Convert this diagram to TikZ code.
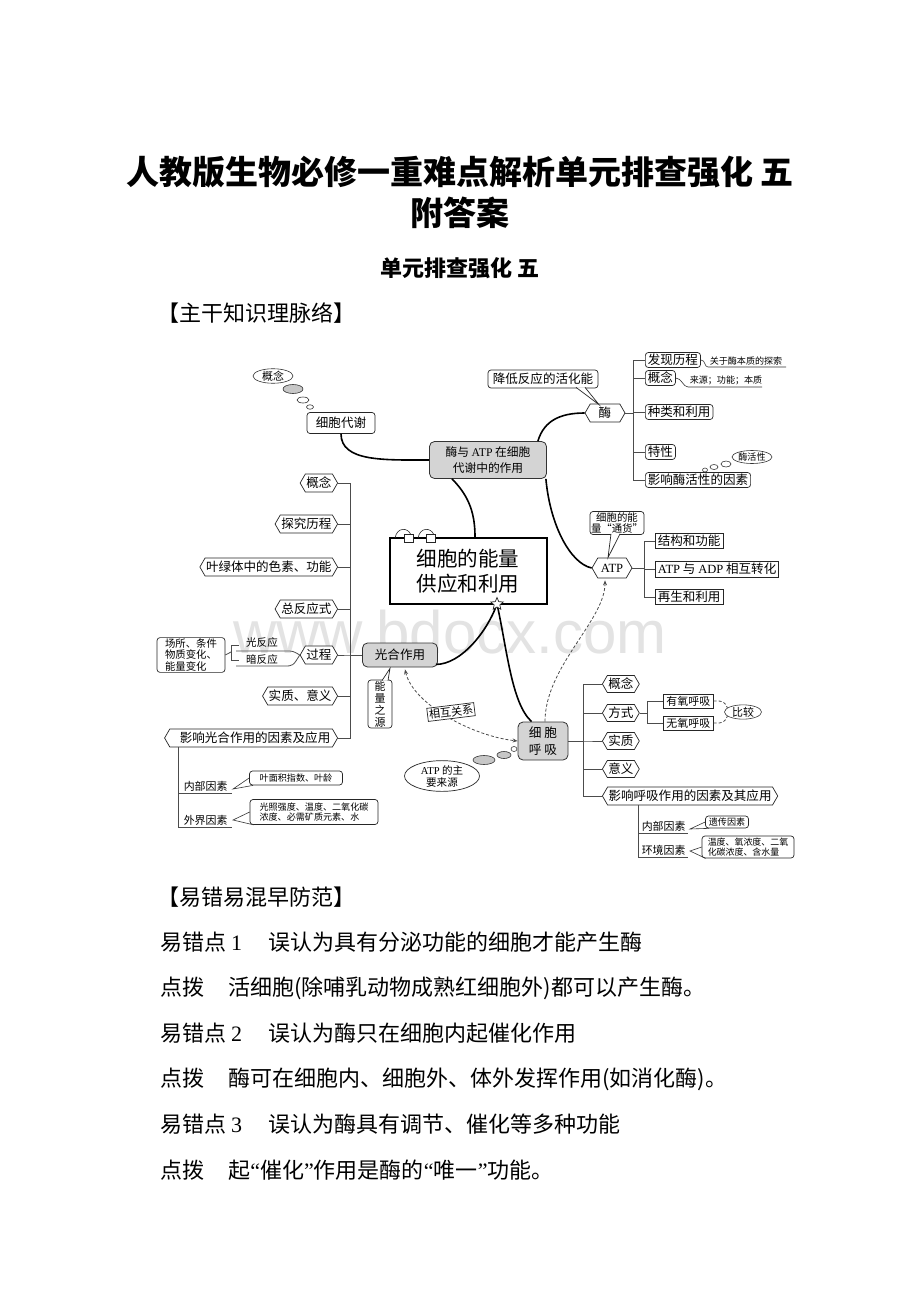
\documentclass[tikz,border=0pt]{standalone}
\usepackage{fontspec}
\setmainfont{Noto Sans CJK SC}
\newfontfamily\lat{Liberation Serif}
\newfontfamily\wmfont{Liberation Sans}
\usetikzlibrary{shapes.symbols,shapes.geometric,arrows.meta,calc}
\newdimen\upx \upx=0.75pt
\newcommand\fA{\fontsize{9.4}{11}\selectfont}
\newcommand\fB{\fontsize{8.2}{9.5}\selectfont}
\newcommand\fC{\fontsize{6.8}{8.2}\selectfont}
\newcommand\fT{\fontsize{16.5}{20}\selectfont}
\tikzset{
  rbox/.style={draw=black!85, line width=0.7\upx, rounded corners=3\upx, fill=white, inner xsep=2.5\upx, inner ysep=1.5\upx, font=\fA},
  sbox/.style={draw=black!85, line width=0.7\upx, fill=white, inner xsep=2.5\upx, inner ysep=1.5\upx, font=\fA},
  hexn/.style={shape=signal, signal to=east and west, signal pointer angle=120, draw=black!85, line width=0.7\upx, fill=white, inner xsep=1\upx, inner ysep=2\upx, minimum height=18\upx, font=\fA},
  gbox/.style={draw=black!80, line width=0.8\upx, rounded corners=5\upx, fill=black!17, font=\fA},
  mainln/.style={line width=1.6\upx, black},
  br/.style={line width=0.8\upx, black!70},
  thinl/.style={line width=0.6\upx, black!80},
  dsh/.style={line width=0.8\upx, black!70, dash pattern=on 3\upx off 2\upx},
  ann/.style={font=\fC, inner sep=0.5\upx},
  bub/.style={ellipse, draw=black!80, line width=0.6\upx, inner sep=0, fill=white},
  gbub/.style={bub, fill=black!22},
  arrw/.style={-{Stealth[length=3.8pt,width=3pt]}},
  arrw2/.style={{Stealth[length=3.8pt,width=3pt]}-{Stealth[length=3.8pt,width=3pt]}},
  ptr/.style={draw=black!85, line width=0.7\upx, fill=white},
  bodyt/.style={anchor=west, font=\fT, inner sep=0},
}
\begin{document}
\begin{tikzpicture}[x=0.75pt,y=-0.75pt]
\fill[white] (0,0) rectangle (920,1302);
\useasboundingbox (0,0) rectangle (920,1302);

% watermark
\node[font={\wmfont\fontsize{45}{50}\selectfont}, text=black!11, anchor=base, inner sep=0] (wm) at (450,653) {www.bdocx.com};

% titles
\node[font=\fontsize{24.75}{30}\selectfont\bfseries, inner sep=0] (t1) at (460,172) {人教版生物必修一重难点解析单元排查强化 五};
\node[font=\fontsize{24.75}{30}\selectfont\bfseries, inner sep=0] (t2) at (460,213) {附答案};
\node[font=\fontsize{16.5}{20}\selectfont\bfseries, inner sep=0] (t3) at (460,268) {单元排查强化 五};
\node[bodyt] (t4) at (157,313) {【主干知识理脉络】};

% body text
\node[bodyt] (b0) at (157,897) {【易错易混早防范】};
\node[bodyt] (b1) at (160,942) {易错点 {\lat 1}\hspace{1.2em}误认为具有分泌功能的细胞才能产生酶};
\node[bodyt] (b2) at (160,988) {点拨\hspace{1.1em}活细胞(除哺乳动物成熟红细胞外)都可以产生酶。};
\node[bodyt] (b3) at (160,1033) {易错点 {\lat 2}\hspace{1.2em}误认为酶只在细胞内起催化作用};
\node[bodyt] (b4) at (160,1079) {点拨\hspace{1.1em}酶可在细胞内、细胞外、体外发挥作用(如消化酶)。};
\node[bodyt] (b5) at (160,1124) {易错点 {\lat 3}\hspace{1.2em}误认为酶具有调节、催化等多种功能};
\node[bodyt] (b6) at (160,1170) {点拨\hspace{1.1em}起{\lat “}催化{\lat ”}作用是酶的{\lat “}唯一{\lat ”}功能。};

% ===== top-left
\node[bub, minimum width=40\upx, minimum height=14\upx, font=\fB] (gn1) at (273,376) {概念};
\node[gbub, minimum width=20\upx, minimum height=9\upx] (bb1) at (293,389) {};
\node[bub, minimum width=12\upx, minimum height=6\upx] (bb2) at (303,400) {};
\node[bub, minimum width=7\upx, minimum height=4.5\upx] (bb3) at (310,407) {};
\node[rbox, minimum width=68\upx, minimum height=21\upx] (cm) at (341,423) {细胞代谢};

% ===== centre hub
\node[gbox, align=center, minimum width=117\upx, minimum height=37\upx, font=\fontsize{8.8}{12.5}\selectfont] (enz) at (488,460) {酶与 {\lat ATP} 在细胞\\代谢中的作用};

% ===== enzyme
\node[rbox, minimum width=110\upx, minimum height=18\upx] (jd) at (543,379) {降低反应的活化能};
\node[hexn, minimum width=40\upx] (mei) at (605,413) {酶};
\node[rbox, anchor=west, minimum height=15\upx] (fx) at (645,360) {发现历程};
\node[rbox, anchor=west, minimum height=15\upx] (gn2) at (645,378) {概念};
\node[rbox, anchor=west, minimum height=15\upx] (zl) at (645,412) {种类和利用};
\node[rbox, anchor=west, minimum height=15\upx] (tx) at (645,452) {特性};
\node[rbox, anchor=west, minimum height=15\upx] (ym) at (645,480) {影响酶活性的因素};
\foreach \c in {fx,gn2,zl,tx,ym} {\draw[br] (mei.east) -- ++(8,0) |- (\c.west);}
\path[ptr] ($(jd.south)+(33,-1)$) -- ($(mei.north)+(-6,1)$) -- ($(jd.south)+(42,-1)$);
\coordinate (a1) at (708,367); \coordinate (a1e) at (786,367);
\draw[thinl] (fx.east) .. controls +(5,0) and +(-4,0) .. (a1) -- (a1e);
\node[ann, anchor=south west] (a1t) at (709,366) {关于酶本质的探索};
\coordinate (a2) at (688,387); \coordinate (a2e) at (762,387);
\draw[thinl] (gn2.east) .. controls +(6,0) and +(-5,0) .. (a2) -- (a2e);
\node[ann, anchor=south west] (a2t) at (689,386) {来源；功能；本质};
\node[bub, minimum width=40\upx, minimum height=13\upx, font=\fC] (mh) at (752,457) {酶活性};
\node[bub, minimum width=10\upx, minimum height=6\upx] (mb1) at (726,464) {};
\node[bub, minimum width=8\upx, minimum height=5\upx] (mb2) at (714,467) {};
\node[bub, minimum width=5\upx, minimum height=4\upx] (mb3) at (705,470) {};

% ===== ATP
\node[hexn, minimum width=40\upx, minimum height=20\upx] (atp) at (612,568) {\lat ATP};
\node[sbox, anchor=west, minimum height=15\upx] (jg) at (655,541) {结构和功能};
\node[sbox, anchor=west, minimum height=16\upx] (zh) at (655,569) {{\lat ATP} 与 {\lat ADP} 相互转化};
\node[sbox, anchor=west, minimum height=15\upx] (zs) at (655,597) {再生和利用};
\foreach \c in {jg,zh,zs} {\draw[br] (atp.east) -- ++(12,0) |- (\c.west);}
\node[rbox, align=center, minimum width=51\upx, minimum height=23\upx, inner sep=1\upx, font=\fontsize{7.8}{8.2}\selectfont] (th) at (617,523) {细胞的能\\量“通货”};
\path[ptr] ($(th.south)+(-6,-1)$) -- ($(atp.north)+(-4,0)$) -- ($(th.south)+(3,-1)$);

% ===== main box
\node[draw, line width=2\upx, fill=white, minimum width=157\upx, minimum height=66\upx, align=center, font=\fontsize{15.4}{18.8}\selectfont] (main) at (468,571) {细胞的能量\\供应和利用};
\draw[thinl] (395,538) .. controls (397,527) and (408,527) .. (411,535);
\node[draw=black!85, fill=white, line width=0.7\upx, minimum width=9\upx, minimum height=8\upx, inner sep=0] (sq1) at (408.5,538) {};
\draw[thinl] (418,538) .. controls (420,527) and (431,527) .. (434,535);
\node[draw=black!85, fill=white, line width=0.7\upx, minimum width=9\upx, minimum height=8\upx, inner sep=0] (sq2) at (431,538) {};
\coordinate (stc) at (497,604);

% ===== photosynthesis
\node[gbox, minimum width=75\upx, minimum height=24\upx] (gh) at (400,655) {光合作用};
\node[hexn, anchor=east] (h1) at (338,483) {概念};
\node[hexn, anchor=east] (h2) at (338,524) {探究历程};
\node[hexn, anchor=east] (h3) at (338,567) {叶绿体中的色素、功能};
\node[hexn, anchor=east] (h4) at (338,609) {总反应式};
\node[hexn, anchor=east] (gc) at (338,655) {过程};
\node[hexn, anchor=east] (h6) at (338,696) {实质、意义};
\node[hexn, anchor=east, minimum width=173\upx] (h7) at (338,738) {\hspace{8\upx}影响光合作用的因素及应用};
\foreach \c in {h1,h2,h3,h4,gc,h6,h7} {\draw[br] (gh.west) -- ++(-12,0) |- (\c.east);}
\node[font=\fontsize{7.9}{9}\selectfont, inner sep=0] (gr) at (262,642) {光反应};
\node[font=\fontsize{7.9}{9}\selectfont, inner sep=0] (ar) at (262,659.5) {暗反应};
\coordinate (l1) at (236,651); \coordinate (l2) at (236,666);
\draw[br] (gc.west) .. controls (293,651) .. (286,651) -- (l1);
\draw[br] (gc.west) .. controls (293,666) .. (284,666) -- (l2);
\node[rbox, align=left, minimum width=68\upx, minimum height=34\upx, inner sep=1.5\upx, font=\fontsize{7.8}{8.3}\selectfont] (cs) at (191,655) {场所、条件\\物质变化、\\能量变化};
\coordinate (k1) at (239,645); \coordinate (k2) at (239,660);
\draw[br] (k1) -- (231,645) -- (231,660) -- (k2);
\coordinate (k0) at (231,652);
\draw[br] (cs.east) -- (k0);
\node[rbox, align=center, minimum width=24\upx, minimum height=48\upx, inner sep=1\upx, font=\fontsize{8.2}{9}\selectfont] (nl) at (380,704) {能\\量\\之\\源};
\path[ptr] ($(nl.north)+(2,1)$) -- ($(gh.south)+(-10,1)$) -- ($(nl.north)+(8,1)$);

% photosynthesis factors
\coordinate (pq) at (178,747); \coordinate (pe) at (232,827);
\coordinate (pm) at (178,793); \coordinate (pme) at (232,793);
\draw[br] (pq) |- (pe);
\draw[br] (pm) -- (pme);
\node[font=\fB, anchor=south west, inner sep=0.5\upx] (pn) at (183,792) {内部因素};
\node[font=\fB, anchor=south west, inner sep=0.5\upx] (pw) at (183,826) {外界因素};
\node[rbox, minimum width=93\upx, minimum height=14\upx, inner sep=1\upx, font=\fC] (yl) at (296,778) {叶面积指数、叶龄};
\draw[thinl] (yl.west) -- ($(pme)+(1,-4)$) -- ($(yl.south west)+(4,0)$);
\node[rbox, align=left, minimum width=128\upx, minimum height=25\upx, inner sep=1\upx, font=\fontsize{6.8}{8.2}\selectfont] (gz) at (314,812) {光照强度、温度、二氧化碳\\浓度、必需矿质元素、水};
\draw[thinl] (gz.west) -- ($(pe)+(1,-7)$) -- ($(gz.south west)+(4,0)$);

% ===== respiration
\node[gbox, align=center, minimum width=50\upx, minimum height=38\upx, font=\fontsize{9.5}{12.5}\selectfont] (hx) at (543,741) {细 胞\\呼 吸};
\node[hexn, anchor=west, minimum height=17\upx] (r1) at (602,684) {概念};
\node[hexn, anchor=west, minimum height=17\upx] (fs) at (602,713) {方式};
\node[hexn, anchor=west, minimum height=17\upx] (r3) at (602,741) {实质};
\node[hexn, anchor=west, minimum height=17\upx] (r4) at (602,769) {意义};
\node[hexn, anchor=west, minimum height=18\upx] (r5) at (602,796) {影响呼吸作用的因素及其应用};
\foreach \c in {r1,fs,r3,r4,r5} {\draw[br] (hx.east) -- ++(15,0) |- (\c.west);}
\node[sbox, anchor=west, minimum width=50\upx, minimum height=14\upx, inner sep=1\upx, font=\fB] (yy) at (663,701) {有氧呼吸};
\node[sbox, anchor=west, minimum width=50\upx, minimum height=14\upx, inner sep=1\upx, font=\fB] (wy) at (663,723) {无氧呼吸};
\draw[br] (fs.east) -- ++(8,0) |- (yy.west);
\draw[br] (fs.east) -- ++(8,0) |- (wy.west);
\node[bub, minimum width=37\upx, minimum height=13\upx, font=\fB] (bj) at (743,712) {比较};
\draw[dsh] (yy.east) .. controls +(10,0) .. (bj.165);
\draw[dsh] (wy.east) .. controls +(10,0) .. (bj.195);
\coordinate (rq) at (638,805); \coordinate (re) at (688,857);
\coordinate (rm) at (638,833); \coordinate (rme) at (688,833);
\draw[br] (rq) |- (re);
\draw[br] (rm) -- (rme);
\node[font=\fB, anchor=south west, inner sep=0.5\upx] (rn) at (641,832) {内部因素};
\node[font=\fB, anchor=south west, inner sep=0.5\upx] (rw) at (641,856) {环境因素};
\node[rbox, minimum width=43\upx, minimum height=12\upx, inner sep=1\upx, font=\fC] (yc) at (727,822) {遗传因素};
\draw[thinl] (yc.west) -- ($(rme)+(2,-4)$) -- ($(yc.south west)+(4,0)$);
\node[rbox, align=left, minimum width=92\upx, minimum height=22\upx, inner sep=1\upx, font=\fontsize{6.7}{8}\selectfont] (wd) at (748,847) {温度、氧浓度、二氧\\化碳浓度、含水量};
\draw[thinl] (wd.west) -- ($(re)+(2,-6)$) -- ($(wd.south west)+(4,0)$);

% thought bubbles to ATP source
\node[bub, minimum width=6\upx, minimum height=5\upx] (hb1) at (514,749) {};
\node[gbub, minimum width=14\upx, minimum height=7\upx] (hb2) at (504,755) {};
\node[gbub, minimum width=22\upx, minimum height=9\upx] (hb3) at (484,760) {};
\node[ellipse, draw=black!85, line width=0.7\upx, fill=white, minimum width=75\upx, minimum height=28\upx, inner sep=0, align=center, font=\fontsize{7.9}{9}\selectfont] (zy) at (442,776) {{\lat ATP} 的主\\要来源};

% ===== main connectors
\draw[mainln] (cm.south) .. controls +(0,28) and +(-45,0) .. (enz.west);
\draw[mainln] ($(enz.south)+(-36,0)$) .. controls +(18,18) and +(0,-22) .. ($(main.north)+(7,0)$);
\draw[mainln] ($(enz.north east)+(-9,0)$) .. controls +(6,-20) and +(-25,0) .. (mei.west);
\draw[mainln] ($(enz.south east)+(-1,0)$) .. controls +(4,45) and +(-22,-5) .. (atp.west);
\draw[mainln] ($(gh.south east)+(-2,-3)$) .. controls +(25,0) and +(-10,28) .. (stc);
\draw[mainln] (stc) .. controls +(10,45) and +(-20,-18) .. ($(hx.north west)+(14,0)$);
\node[star, star points=5, star point ratio=2.2, draw=black!85, fill=white, line width=0.7\upx, minimum size=13\upx, inner sep=0] (st) at (stc) {};

% dashed relations
\draw[dsh, arrw] ($(hx.north)+(2,0)$) .. controls +(0,-55) and +(0,40) .. ($(atp.south)+(-7,2)$);
\draw[dsh, arrw2] ($(gh.south)+(5,2)$) .. controls +(8,35) and +(-45,-5) .. (hx.west);
\node[sbox, rotate=7, inner sep=1.5\upx, font=\fontsize{8.3}{9}\selectfont] (xh) at (451,712) {相互关系};
\end{tikzpicture}
\end{document}
